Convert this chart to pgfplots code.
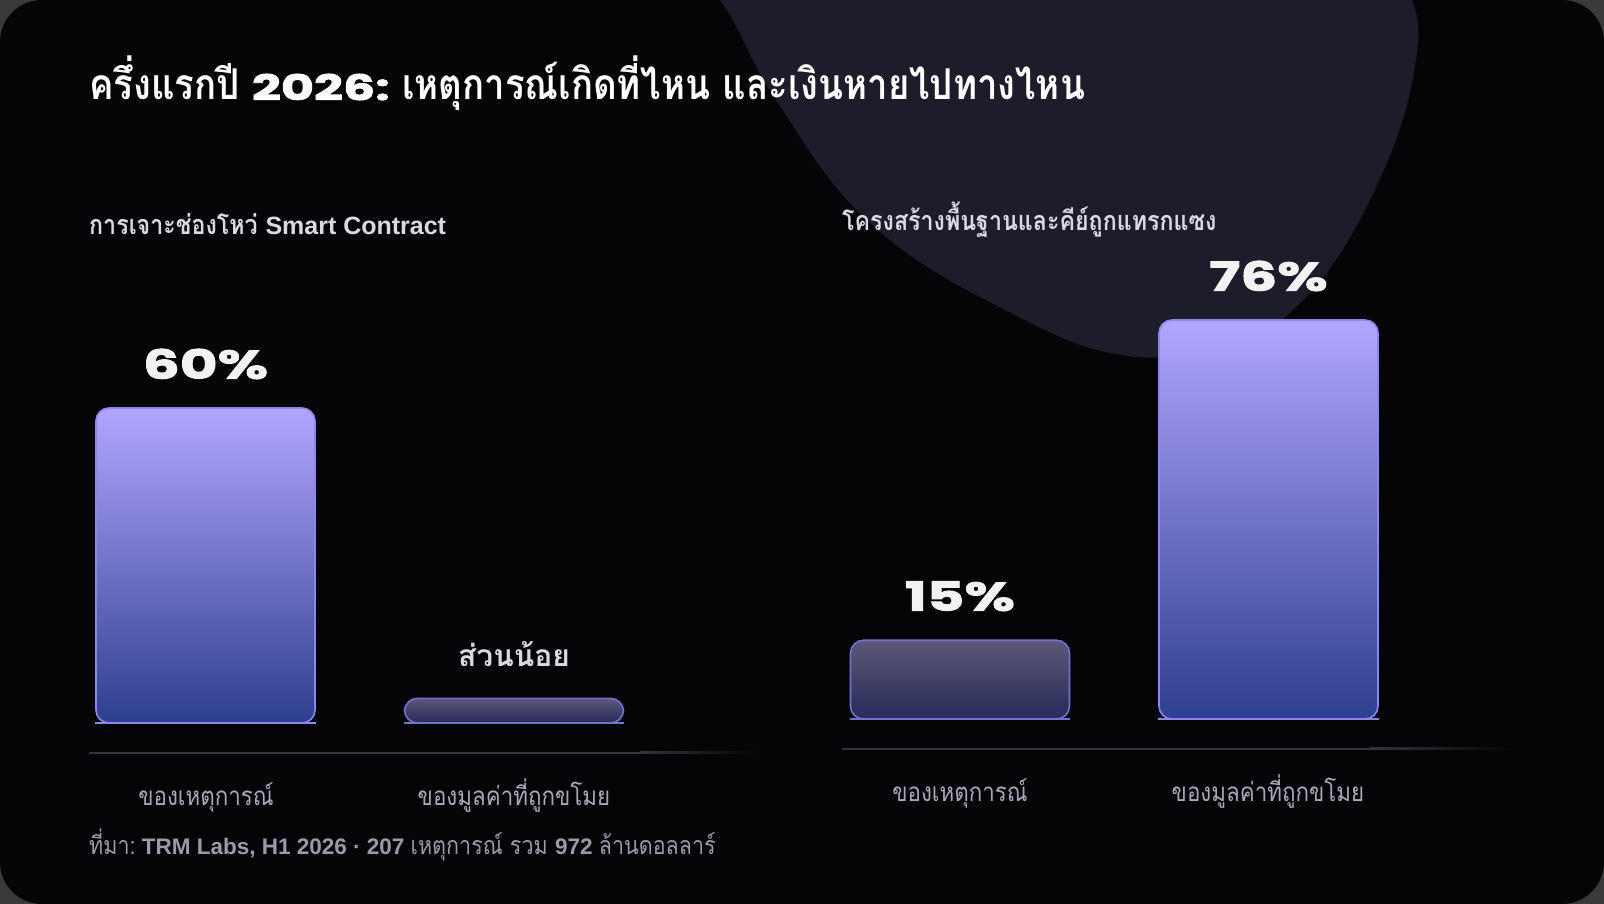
\documentclass[border=0pt]{standalone}
\usepackage{pgfplots}
\pgfplotsset{compat=1.18}
\usepackage{fontspec}
\setmainfont{Liberation Sans}
\newfontfamily\thai[Script=Thai, FakeStretch=0.86]{Loma}
\newfontfamily\thaib[Script=Thai]{Loma}
\newfontfamily\wide[FakeStretch=1.45, FakeBold=2.4]{Poppins}

\definecolor{outer}{HTML}{3A3A3A}
\definecolor{cardbg}{HTML}{050507}
\definecolor{blob}{HTML}{1D1C2A}
\definecolor{bartop}{HTML}{B2A6FF}
\definecolor{barbot}{HTML}{2E3F8F}
\definecolor{barline}{HTML}{8C86EC}
\definecolor{smtop}{HTML}{5D5879}
\definecolor{smbot}{HTML}{262A56}
\definecolor{smline}{HTML}{7471D0}
\definecolor{subt}{HTML}{D9D9E3}
\definecolor{catc}{HTML}{A8A8BA}
\definecolor{srcc}{HTML}{9A9AAA}
\definecolor{valc}{HTML}{F2F2F2}
\definecolor{linec}{HTML}{34343C}

% bars start at y=0 below the visible floor, so only their tops are rounded
\def\floor{2.4}
\pgfplotsset{
  panel/.style={anchor=south west, scale only axis, width=617pt, height=420pt,
    xmin=-0.5, xmax=1.5, ymin=\floor, ymax=80+\floor, hide axis,
    clip=true, clip mode=individual,
    y filter/.expression={y+\floor}, point meta=rawy,
    /pgf/number format/assume math mode=true},
  bar/.style={ybar, bar width=219pt, bar shift=0pt, line width=1.6pt,
    rounded corners=13pt,
    nodes near coords={\pgfmathprintnumber{\pgfplotspointmeta}\%},
    every node near coord/.style={anchor=center, yshift=44pt,
      font=\wide\bfseries\fontsize{40}{40}\selectfont, text=valc}},
  bigbar/.style={bar, draw=barline, top color=bartop, bottom color=barbot},
  smallbar/.style={bar, draw=smline, top color=smtop, bottom color=smbot},
}
\tikzset{
  cat/.style={font=\thai\fontsize{26}{26}\selectfont, text=catc, anchor=base},
}

\begin{document}
\begin{tikzpicture}[x=1pt,y=1pt]
\fill[outer] (0,0) rectangle (1604,904);
\useasboundingbox (0,0) rectangle (1604,904);
\fill[cardbg, rounded corners=42pt] (0,0) rectangle (1604,904);
\begin{scope}
  \clip[rounded corners=42pt] (0,0) rectangle (1604,904);
  \fill[blob] plot[smooth cycle, tension=0.7] coordinates {
    (660,964) (720,904) (776,804) (870,681) (1005,594) (1128,548)
    (1235,564) (1303,604) (1370,704) (1414,832) (1405,924) (1330,1054) (900,1084)};
\end{scope}

% title and panel headings
\node[anchor=base west, inner sep=0, text=white] at (89,804)
  {{\thai\bfseries\fontsize{42.5}{42.5}\selectfont ครึ่งแรกปี }{\wide\bfseries\fontsize{35}{35}\selectfont 2026:}{\thai\bfseries\fontsize{42.5}{42.5}\selectfont\ เหตุการณ์เกิดที่ไหน และเงินหายไปทางไหน}};
\node[anchor=base west, inner sep=0, text=subt] at (89,669)
  {{\thai\bfseries\fontsize{27}{27}\selectfont การเจาะช่องโหว่ }{\bfseries\fontsize{25}{25}\selectfont Smart Contract}};
\node[anchor=base west, inner sep=0, text=subt] at (842,673)
  {\thai\bfseries\fontsize{27}{27}\selectfont โครงสร้างพื้นฐานและคีย์ถูกแทรกแซง};

% baselines
\fill[linec] (89,150) rectangle (640,152);
\shade[left color=linec, right color=cardbg] (640,150) rectangle (757,152);
\fill[linec] (842,154) rectangle (1370,156);
\shade[left color=linec, right color=cardbg] (1370,154) rectangle (1514,156);

% left panel: Smart Contract exploits
\begin{axis}[panel, at={(51.25pt,181pt)}]
\addplot[bigbar] coordinates {(0,60)};
\addplot[smallbar, nodes near coords={ส่วนน้อย},
  every node near coord/.append style={font=\thaib\bfseries\fontsize{30}{30}\selectfont, text=subt}]
  coordinates {(1,4.7)};
\draw[barline, line width=1.6pt] ([xshift=-110.3pt]axis cs:0,\floor) -- ([xshift=110.3pt]axis cs:0,\floor);
\draw[smline, line width=1.6pt] ([xshift=-110.3pt]axis cs:1,\floor) -- ([xshift=110.3pt]axis cs:1,\floor);
\end{axis}

% right panel: infrastructure and key compromises
\begin{axis}[panel, at={(805.75pt,185pt)}]
\addplot[smallbar] coordinates {(0,15)};
\addplot[bigbar] coordinates {(1,76)};
\draw[smline, line width=1.6pt] ([xshift=-110.3pt]axis cs:0,\floor) -- ([xshift=110.3pt]axis cs:0,\floor);
\draw[barline, line width=1.6pt] ([xshift=-110.3pt]axis cs:1,\floor) -- ([xshift=110.3pt]axis cs:1,\floor);
\end{axis}

% category labels
\node[cat] at (206,98) {ของเหตุการณ์};
\node[cat] at (514,98) {ของมูลค่าที่ถูกขโมย};
\node[cat] at (960,102) {ของเหตุการณ์};
\node[cat] at (1268,102) {ของมูลค่าที่ถูกขโมย};

% source
\node[anchor=base west, inner sep=0, text=srcc] at (89,49)
  {{\thai\fontsize{25}{25}\selectfont ที่มา:}{\bfseries\fontsize{22.5}{22.5}\selectfont\ TRM Labs, H1 2026 · 207 }{\thai\fontsize{25}{25}\selectfont เหตุการณ์ รวม }{\bfseries\fontsize{22.5}{22.5}\selectfont 972 }{\thai\fontsize{25}{25}\selectfont ล้านดอลลาร์}};
\end{tikzpicture}
\end{document}
